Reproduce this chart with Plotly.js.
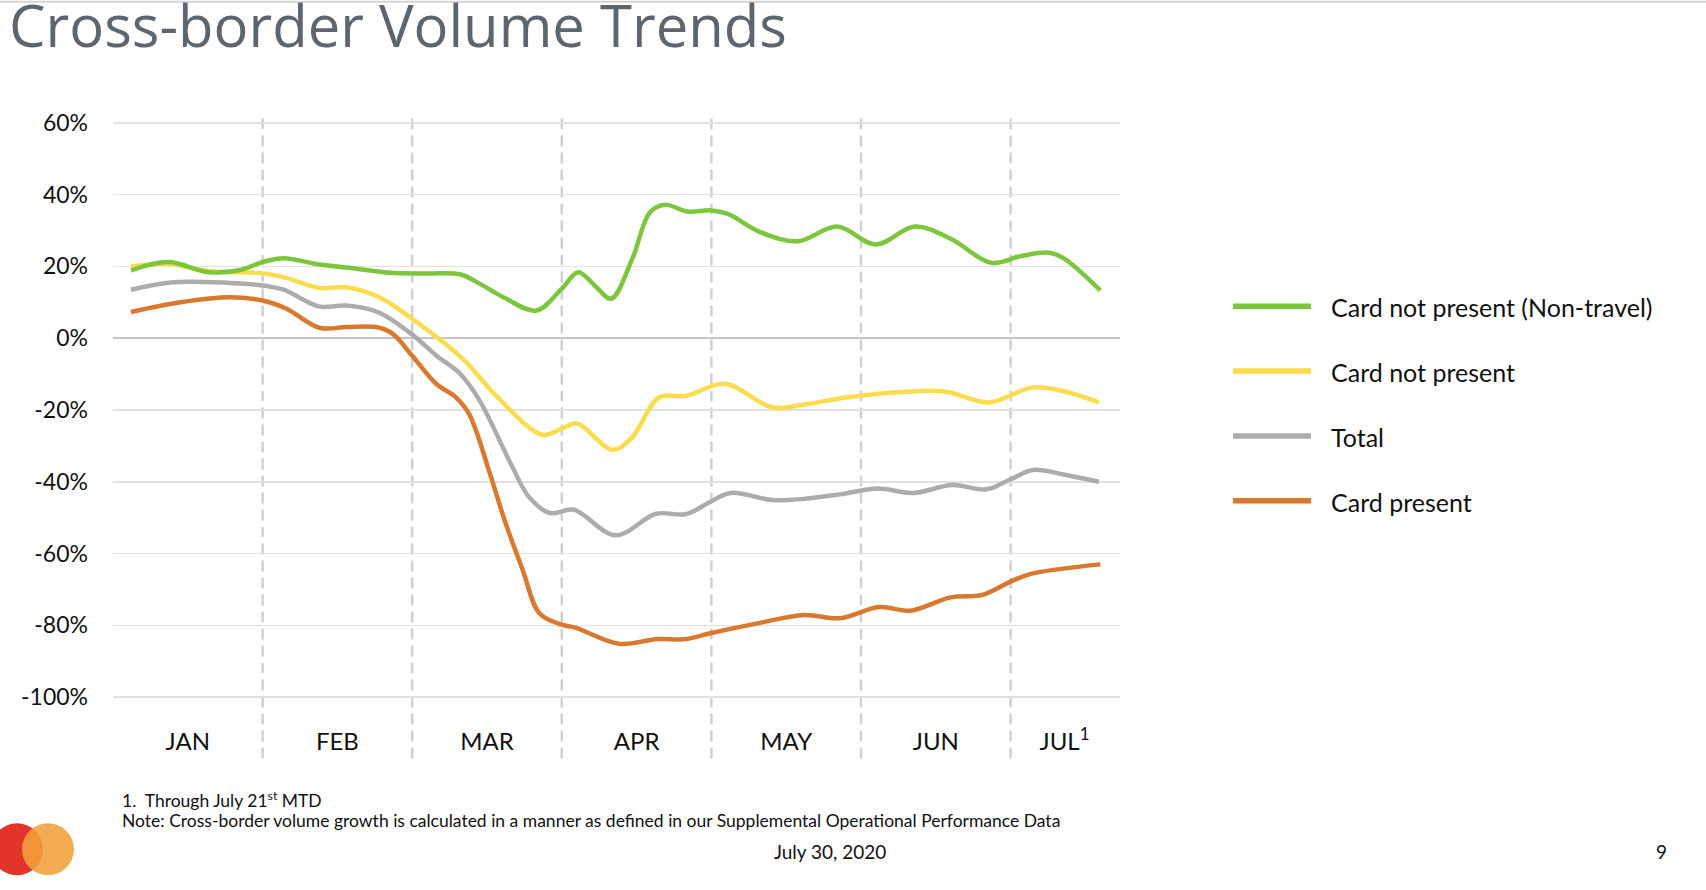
<!DOCTYPE html>
<html>
<head>
<meta charset="utf-8">
<script src="https://cdn.plot.ly/plotly-3.0.1.min.js"></script>
<style>
  html, body { margin: 0; padding: 0; background: #ffffff; }
  #chart { width: 1706px; height: 890px; }
</style>
</head>
<body>
<div id="chart"></div>
<script>
// ---------------- DATA ----------------
// x positions are in "month units": 0 = start of January, 1 = start of February, ...
const monthLabels = ['JAN', 'FEB', 'MAR', 'APR', 'MAY', 'JUN', 'JUL<sup>1</sup>'];
const monthLabelPos = [0.5, 1.5, 2.5, 3.5, 4.5, 5.5, 6.36];
const monthStarts = [1, 2, 3, 4, 5, 6];

const yTickVals = [60, 40, 20, 0, -20, -40, -60, -80, -100];
const yTickLabels = ['60%', '40%', '20%', '0%', '-20%', '-40%', '-60%', '-80%', '-100%'];

const seriesNames = ['Card not present (Non-travel)', 'Card not present', 'Total', 'Card present'];
const seriesColors = ['#7cc63d', '#fadd4f', '#acacac', '#d9782f'];

const cnpNonTravelX = [0.12, 0.37, 0.64, 0.85, 1.0, 1.14, 1.38, 1.60, 1.85, 2.10, 2.32, 2.45, 2.61, 2.83, 3.0, 3.11, 3.22, 3.33, 3.47, 3.59, 3.69, 3.84, 4.0, 4.11, 4.33, 4.58, 4.84, 5.10, 5.36, 5.60, 5.87, 6.07, 6.26, 6.36, 6.60];
const cnpNonTravelY = [18.9, 21.2, 18.4, 19.0, 21.2, 22.3, 20.5, 19.5, 18.2, 18.0, 17.8, 15.2, 11.4, 7.7, 13.8, 18.4, 14.7, 11.0, 22.0, 35.1, 37.2, 35.3, 35.6, 34.6, 29.5, 27.0, 31.1, 26.1, 31.1, 27.7, 21.0, 22.9, 23.8, 22.1, 13.3];

const cnpX = [0.12, 0.37, 0.64, 1.0, 1.14, 1.38, 1.56, 1.78, 2.0, 2.34, 2.56, 2.87, 3.0, 3.10, 3.34, 3.47, 3.65, 3.83, 4.09, 4.41, 4.63, 4.90, 5.30, 5.57, 5.85, 6.15, 6.37, 6.59];
const cnpY = [20.0, 20.7, 18.7, 18.1, 17.0, 14.0, 14.2, 11.4, 5.4, -5.8, -16.0, -26.9, -25.2, -23.7, -31.1, -27.6, -16.5, -16.1, -12.7, -19.3, -18.4, -16.5, -14.9, -14.9, -17.9, -13.7, -14.9, -17.9];

const totalX = [0.12, 0.40, 0.78, 1.0, 1.14, 1.38, 1.56, 1.78, 2.0, 2.16, 2.32, 2.45, 2.67, 2.78, 2.92, 3.08, 3.36, 3.63, 3.83, 4.0, 4.13, 4.41, 4.63, 4.86, 5.11, 5.35, 5.61, 5.84, 6.0, 6.15, 6.37, 6.59];
const totalY = [13.5, 15.6, 15.4, 14.7, 13.5, 8.8, 9.1, 7.1, 1.0, -4.8, -9.9, -17.3, -35.9, -44.2, -48.7, -47.8, -54.9, -48.9, -49.0, -45.4, -43.1, -45.1, -44.7, -43.5, -41.9, -43.1, -40.9, -42.1, -39.3, -36.7, -38.1, -40.0];

const cpX = [0.12, 0.45, 0.78, 1.0, 1.16, 1.38, 1.56, 1.76, 1.87, 2.0, 2.16, 2.29, 2.38, 2.52, 2.62, 2.74, 2.85, 3.0, 3.09, 3.38, 3.64, 3.83, 4.0, 4.30, 4.62, 4.86, 5.12, 5.33, 5.60, 5.81, 6.0, 6.13, 6.60];
const cpY = [7.3, 10.0, 11.4, 10.5, 8.2, 2.9, 3.1, 3.1, 1.2, -4.9, -12.7, -16.4, -21.1, -37.8, -51.0, -64.7, -76.6, -79.8, -80.6, -85.1, -83.8, -83.8, -82.1, -79.5, -77.1, -78.0, -74.9, -75.9, -72.2, -71.5, -67.8, -65.7, -63.0];

const seriesX = [cnpNonTravelX, cnpX, totalX, cpX];
const seriesY = [cnpNonTravelY, cnpY, totalY, cpY];

// ---------------- LAYOUT ----------------
const W = 1706, H = 890;
const M = { l: 113, r: 586, t: 120.5, b: 190.5 };
const plotW = W - M.l - M.r, plotH = H - M.t - M.b;
const px2x = px => (px - M.l) / plotW;
const px2y = py => (H - M.b - py) / plotH;

const FONT = 'Lato, "Open Sans", sans-serif';
const TITLE_FONT = '"Open Sans", Lato, sans-serif';

// draw order: orange at bottom, green on top
const drawOrder = [3, 2, 1, 0];
const traces = drawOrder.map(i => ({
  type: 'scatter',
  mode: 'lines',
  name: seriesNames[i],
  x: seriesX[i],
  y: seriesY[i],
  line: { color: seriesColors[i], width: 4.5, shape: 'spline', smoothing: 1 },
  hoverinfo: 'skip',
  showlegend: false
}));

const shapes = [];
// thin line at very top of slide
shapes.push({ type: 'line', xref: 'paper', yref: 'paper', x0: px2x(0), x1: px2x(W), y0: px2y(1), y1: px2y(1),
  line: { color: '#d4d4d4', width: 2 }, layer: 'above' });
// dashed month separators
monthStarts.forEach(m => shapes.push({
  type: 'line', xref: 'x', yref: 'paper', x0: m, x1: m, y0: px2y(759), y1: px2y(115),
  line: { color: '#d0d0d0', width: 2.5, dash: '11px,6px' }, layer: 'below'
}));
// manual legend line samples
const legendRowsY = [306, 371, 436, 501];
seriesNames.forEach((n, i) => shapes.push({
  type: 'line', xref: 'paper', yref: 'paper', x0: px2x(1233), x1: px2x(1311),
  y0: px2y(legendRowsY[i]), y1: px2y(legendRowsY[i]),
  line: { color: seriesColors[i], width: 5.5 }
}));
// logo circles
const circ = (cx, cy, r, color, op) => ({
  type: 'circle', xref: 'paper', yref: 'paper',
  x0: px2x(cx - r), x1: px2x(cx + r), y0: px2y(cy + r), y1: px2y(cy - r),
  fillcolor: color, opacity: op, line: { width: 0 }
});
shapes.push(circ(17, 850, 26, '#e3342c', 1));
shapes.push(circ(48, 850, 26, '#f2a03a', 0.88));

const annotations = [];
seriesNames.forEach((n, i) => annotations.push({
  xref: 'paper', yref: 'paper', x: px2x(1329), y: px2y(legendRowsY[i] + 1),
  xanchor: 'left', yanchor: 'middle', showarrow: false, text: n,
  font: { family: FONT, size: 25, color: '#111111' }
}));
annotations.push({ xref: 'paper', yref: 'paper', x: px2x(120), y: px2y(800), xanchor: 'left', yanchor: 'middle',
  showarrow: false, text: '1.  Through July 21<sup>st</sup> MTD', font: { family: FONT, size: 17.5, color: '#111111' } });
annotations.push({ xref: 'paper', yref: 'paper', x: px2x(120), y: px2y(821), xanchor: 'left', yanchor: 'middle',
  showarrow: false, text: 'Note: Cross-border volume growth is calculated in a manner as defined in our Supplemental Operational Performance Data',
  font: { family: FONT, size: 17.5, color: '#111111' } });
annotations.push({ xref: 'paper', yref: 'paper', x: px2x(830), y: px2y(852), xanchor: 'center', yanchor: 'middle',
  showarrow: false, text: 'July 30, 2020', font: { family: FONT, size: 19, color: '#111111' } });
annotations.push({ xref: 'paper', yref: 'paper', x: px2x(1661), y: px2y(852), xanchor: 'center', yanchor: 'middle',
  showarrow: false, text: '9', font: { family: FONT, size: 19, color: '#111111' } });

const layout = {
  width: W, height: H,
  margin: M,
  paper_bgcolor: '#ffffff', plot_bgcolor: '#ffffff',
  showlegend: false,
  title: {
    text: 'Cross-border Volume Trends',
    xref: 'container', yref: 'container',
    x: 9 / W, xanchor: 'left',
    y: 1 - 6 / H, yanchor: 'top',
    font: { family: TITLE_FONT, size: 58, color: '#5c6670' }
  },
  xaxis: {
    range: [0, (1120 - M.l) / 149.6],
    showgrid: false, zeroline: false, showline: false,
    tickmode: 'array', tickvals: monthLabelPos, ticktext: monthLabels,
    ticks: '', ticklabelstandoff: 26,
    tickfont: { family: FONT, size: 24, color: '#111111' },
    fixedrange: true
  },
  yaxis: {
    range: [-100.5, 60.5],
    tickmode: 'array', tickvals: yTickVals, ticktext: yTickLabels,
    showgrid: true, gridcolor: '#e1e1e1', gridwidth: 1.5,
    zeroline: true, zerolinecolor: '#c4c4c4', zerolinewidth: 1.5,
    showline: false, ticks: '', ticklabelstandoff: 24,
    tickfont: { family: FONT, size: 23, color: '#111111' },
    fixedrange: true
  },
  shapes: shapes,
  annotations: annotations
};

Plotly.newPlot('chart', traces, layout, { displayModeBar: false, staticPlot: true });
</script>
</body>
</html>
